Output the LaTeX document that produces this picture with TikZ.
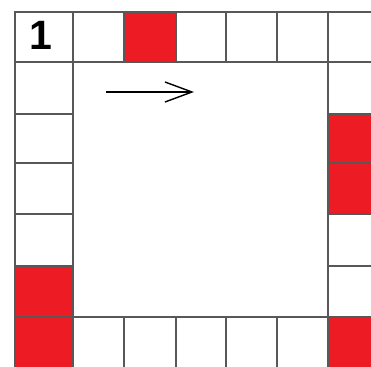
\documentclass[tikz,border=0pt]{standalone}
\usepackage{fontspec}
\setmainfont{Liberation Sans}
\usetikzlibrary{arrows.meta}
\definecolor{boardred}{RGB}{237,28,36}
\definecolor{gridgray}{RGB}{88,88,88}
\begin{document}
\begin{tikzpicture}[x=1pt,y=-1pt,
  cell/.style={draw=gridgray, line width=2.8pt},
  redfill/.style={fill=boardred},
  label1/.style={inner sep=0pt, font=\fontsize{41}{41}\selectfont\bfseries, text=black},
  moveline/.style={line width=1.4pt, black, -{Straight Barb[length=27pt,width=20pt,line width=1.4pt]}}]
\useasboundingbox (0,0) rectangle (371,366);
\clip (0,0) rectangle (371,366);
\fill[white] (0,0) rectangle (371,366);
% red cells
\fill[redfill] (124,12) rectangle (176,62);
\fill[redfill] (328,114) rectangle (390,163);
\fill[redfill] (328,163) rectangle (390,214);
\fill[redfill] (328,317) rectangle (390,390);
\fill[redfill] (15,266) rectangle (73,317);
\fill[redfill] (15,317) rectangle (73,390);
% top and bottom rows
\foreach \a/\b in {15/73,73/124,124/176,176/226,226/277,277/328,328/390}{
  \draw[cell] (\a,12) rectangle (\b,62);
  \draw[cell] (\a,317) rectangle (\b,390);
}
% left and right columns
\foreach \a/\b in {62/114,114/163,163/214,214/266,266/317}{
  \draw[cell] (15,\a) rectangle (73,\b);
  \draw[cell] (328,\a) rectangle (390,\b);
}
\node[label1] (one) at (41,35) {1};
\coordinate (arrowstart) at (106,92);
\coordinate (arrowend) at (194,92);
\draw[moveline] (arrowstart) -- (arrowend);
\end{tikzpicture}
\end{document}
